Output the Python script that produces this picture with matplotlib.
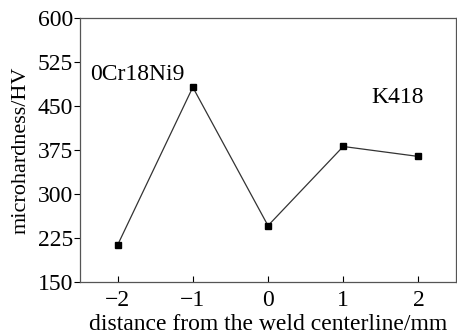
import matplotlib
matplotlib.use("Agg")
import matplotlib.pyplot as plt

distance = [-2, -1, 0, 1, 2]
hardness = [213, 482, 246, 381, 364]
yticks = [150, 225, 300, 375, 450, 525, 600]
xticks = [-2, -1, 0, 1, 2]

plt.rcParams['font.family'] = ['Liberation Serif']
fig = plt.figure(figsize=(4.57, 3.35), dpi=100)
ax = fig.add_axes([80/457, 1-282/335, (456-80)/457, (282-18)/335])
ax.plot(distance, hardness, color='#333333', lw=0.9, marker='s', ms=4,
        mfc='black', mec='black')
ax.set_xlim(-2.5, 2.5)
ax.set_ylim(150, 600)
ax.set_xticks(xticks)
ax.set_xticklabels(['\u22122', '\u22121', '0', '1', '2'])
ax.set_yticks(yticks)
ax.tick_params(axis='x', direction='in', length=4, labelsize=17, pad=6)
ax.tick_params(axis='y', direction='out', length=4, labelsize=17, pad=1)
for s in ax.spines.values():
    s.set_color('#555555')
    s.set_linewidth(0.9)
ax.set_xlabel('distance from the weld centerline/mm', fontsize=17, labelpad=2)
ax.set_ylabel('microhardness/HV', fontsize=16, labelpad=5)
ax.text(-2.37, 503, '0Cr18Ni9', fontsize=17, va='center', ha='left')
ax.text(1.38, 464, 'K418', fontsize=17, va='center', ha='left')
fig.savefig('out.png', dpi=100)
